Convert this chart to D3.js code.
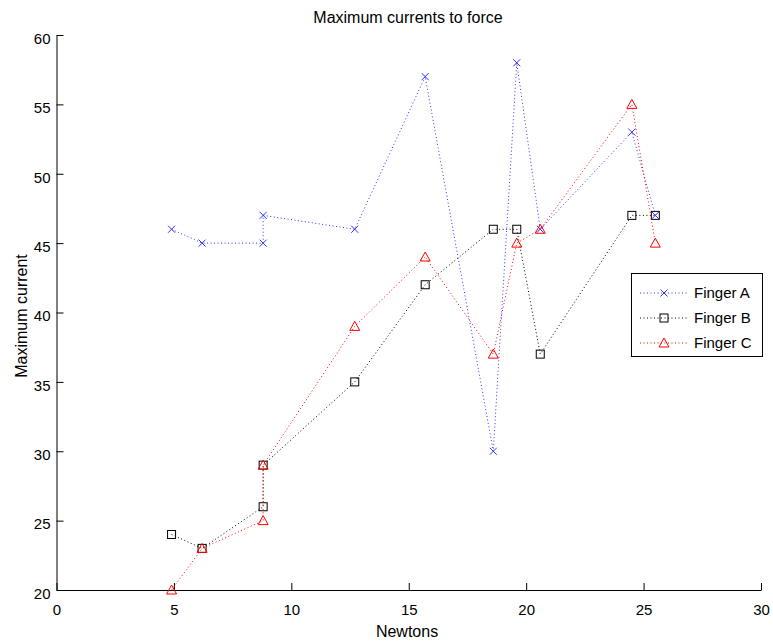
<!DOCTYPE html>
<html>
<head>
<meta charset="utf-8">
<script src="https://cdn.jsdelivr.net/npm/d3@7"></script>
<style>
  body { margin: 0; background: #fff; }
  text { font-family: "Liberation Sans", Arial, sans-serif; fill: #000; }
</style>
</head>
<body>
<div id="chart"></div>
<script>
// force (N) readings, shared by all three fingers
const newtons  = [4.9, 6.2, 8.8, 8.8, 12.7, 15.7, 18.6, 19.6, 20.6, 24.5, 25.5];
const fingerA  = [46, 45, 45, 47, 46, 57, 30, 58, 46, 53, 47];
const fingerB  = [24, 23, 26, 29, 35, 42, 46, 46, 37, 47, 47];
const fingerC  = [20, 23, 25, 29, 39, 44, 37, 45, 46, 55, 45];
const xTicks   = [0, 5, 10, 15, 20, 25, 30];
const yTicks   = [20, 25, 30, 35, 40, 45, 50, 55, 60];

const series = [
  { name: 'Finger A', values: fingerA, color: '#3333ff', marker: 'x' },
  { name: 'Finger B', values: fingerB, color: '#000000', marker: 'square' },
  { name: 'Finger C', values: fingerC, color: '#ff0000', marker: 'triangle' }
];

const W = 773, H = 642;
const x = d3.scaleLinear().domain([0, 30]).range([56.5, 761]);
const y = d3.scaleLinear().domain([20, 60]).range([590, 35]);

const svg = d3.select('#chart').append('svg')
  .attr('width', W).attr('height', H);

// marker drawing helper
function drawMarker(g, type, cx, cy, color) {
  if (type === 'x') {
    const s = 3.5;
    g.append('path')
      .attr('d', `M${cx - s},${cy - s}L${cx + s},${cy + s}M${cx - s},${cy + s}L${cx + s},${cy - s}`)
      .attr('stroke', color).attr('fill', 'none').attr('stroke-width', 1);
  } else if (type === 'square') {
    const s = 4;
    g.append('rect')
      .attr('x', cx - s).attr('y', cy - s).attr('width', 2 * s).attr('height', 2 * s)
      .attr('stroke', color).attr('fill', 'none').attr('stroke-width', 1);
  } else {
    const s = 5;
    g.append('path')
      .attr('d', `M${cx},${cy - s}L${cx + s},${cy + s * 0.8}L${cx - s},${cy + s * 0.8}Z`)
      .attr('stroke', color).attr('fill', 'none').attr('stroke-width', 1);
  }
}

// axes (ticks point inward)
const xAxis = svg.append('g').attr('transform', `translate(0,${y(20)})`)
  .call(d3.axisBottom(x).tickValues(xTicks).tickSize(-7).tickPadding(14).tickSizeOuter(0));
const yAxis = svg.append('g').attr('transform', `translate(${x(0)},0)`)
  .call(d3.axisLeft(y).tickValues(yTicks).tickSize(-7).tickPadding(6).tickSizeOuter(0));
[xAxis, yAxis].forEach(a => {
  a.select('.domain').attr('stroke', '#000');
  a.selectAll('.tick line').attr('stroke', '#000');
  a.selectAll('.tick text').attr('font-size', 15).attr('font-family', '"Liberation Sans", Arial, sans-serif');
});
yAxis.selectAll('.tick text').attr('dy', '0.55em');

// lines + markers
const line = d3.line().x((d, i) => x(newtons[i])).y(d => y(d));
series.forEach(s => {
  svg.append('path')
    .datum(s.values)
    .attr('d', line)
    .attr('fill', 'none')
    .attr('stroke', s.color)
    .attr('stroke-width', 1)
    .attr('stroke-dasharray', '1,2.5');
  const g = svg.append('g');
  s.values.forEach((v, i) => drawMarker(g, s.marker, x(newtons[i]), y(v), s.color));
});

// titles
svg.append('text').attr('x', 408).attr('y', 23).attr('text-anchor', 'middle')
  .attr('font-size', 16).text('Maximum currents to force');
svg.append('text').attr('x', 407).attr('y', 637).attr('text-anchor', 'middle')
  .attr('font-size', 16).text('Newtons');
svg.append('text').attr('transform', 'translate(27,316) rotate(-90)').attr('text-anchor', 'middle')
  .attr('font-size', 16).text('Maximum current');

// legend
const lg = svg.append('g');
lg.append('rect').attr('x', 631.5).attr('y', 273.5).attr('width', 131).attr('height', 83)
  .attr('fill', '#fff').attr('stroke', '#000');
series.forEach((s, i) => {
  const ly = 293 + i * 25;
  lg.append('line').attr('x1', 640).attr('x2', 687).attr('y1', ly).attr('y2', ly)
    .attr('stroke', s.color).attr('stroke-dasharray', '1,2.5');
  drawMarker(lg, s.marker, 664, ly, s.color);
  lg.append('text').attr('x', 694).attr('y', ly + 5).attr('font-size', 15).text(s.name);
});
</script>
</body>
</html>
